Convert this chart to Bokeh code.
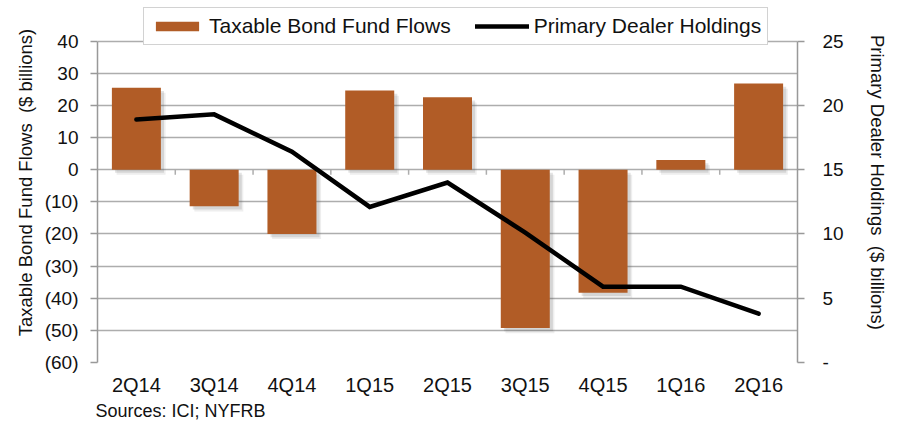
from bokeh.plotting import figure
from bokeh.models import Range1d, LinearAxis, FixedTicker, Legend, LegendItem, Title, ColumnDataSource
from bokeh.transform import dodge
from bokeh.embed import file_html
from bokeh.resources import INLINE

quarters = ["2Q14", "3Q14", "4Q14", "1Q15", "2Q15", "3Q15", "4Q15", "1Q16", "2Q16"]
fund_flows = [25.5, -11.4, -20.0, 24.6, 22.5, -49.3, -38.3, 3.0, 26.8]
dealer_holdings = [18.9, 19.3, 16.4, 12.1, 14.0, 10.1, 5.9, 5.9, 3.8]
left_ticks = [40, 30, 20, 10, 0, -10, -20, -30, -40, -50, -60]
right_ticks = [0, 5, 10, 15, 20, 25]

FONT = "Liberation Sans"
BAR = "#B15C26"
GRID = "#ADADAD"
AXIS = "#999999"
TXT = "#111111"
SP = "\u00a0"

n = len(quarters)
centers = [i + 0.5 for i in range(n)]
bounds = list(range(1, n))

# headroom above the top tick keeps the legend inside the (clipped) frame
L_MIN, L_MAX, L_TOP = -60, 40, 52
R_MIN, R_MAX = 0, 25
R_TOP = R_MIN + (R_MAX - R_MIN) * (L_TOP - L_MIN) / (L_MAX - L_MIN)

src = ColumnDataSource(dict(x=centers, flows=fund_flows, zero=[0] * n,
                            dealer=dealer_holdings))

p = figure(width=890, height=420, x_range=Range1d(0, n), y_range=Range1d(L_MIN, L_TOP),
           output_backend="svg", toolbar_location=None,
           min_border_left=97, min_border_right=89, min_border_top=2, min_border_bottom=54)
p.extra_y_ranges = {"dealer": Range1d(R_MIN, R_TOP)}
p.outline_line_color = None
p.background_fill_color = "white"

# grid
p.xgrid.visible = False
p.ygrid.ticker = FixedTicker(ticks=left_ticks)
p.ygrid.grid_line_color = GRID
p.ygrid.grid_line_width = 1.5

# soft bar shadows
for dx, dy, a in [(0.06, -1.6, 0.10), (0.04, -1.0, 0.16)]:
    p.vbar(x=dodge("x", dx), top=dodge("flows", dy), bottom=dodge("zero", dy),
           width=0.63, fill_color="#555555", fill_alpha=a, line_color=None, source=src)

# bars
bars = p.vbar(x="x", top="flows", bottom=0, width=0.63, fill_color=BAR,
              line_color=None, source=src)

# category separators hanging from zero line
p.segment(x0=bounds, y0=[0] * len(bounds), x1=bounds, y1=[-1.6] * len(bounds),
          line_color=GRID, line_width=1.5)

# dealer line
line = p.line(x="x", y="dealer", y_range_name="dealer", line_color="black",
              line_width=4.5, line_cap="round", line_join="miter", source=src)

# x axis
xa = p.xaxis[0]
xa.ticker = FixedTicker(ticks=centers)
xa.major_label_overrides = {c: q for c, q in zip(centers, quarters)}
xa.axis_line_color = None
xa.major_tick_line_color = None
xa.minor_tick_line_color = None
xa.major_tick_out = 0
xa.major_label_standoff = 11
xa.major_label_text_font = FONT
xa.major_label_text_font_size = "20px"
xa.major_label_text_color = TXT

# left axis
ya = p.yaxis[0]
ya.bounds = (L_MIN, L_MAX)
ya.ticker = FixedTicker(ticks=left_ticks)
ya.major_label_overrides = {t: (f"({-t})" if t < 0 else str(t)) for t in left_ticks}
ya.axis_line_color = AXIS
ya.axis_line_width = 1.5
ya.major_tick_line_color = AXIS
ya.major_tick_line_width = 1.5
ya.major_tick_in = 0
ya.major_tick_out = 7
ya.minor_tick_line_color = None
ya.major_label_standoff = 12
ya.major_label_text_font = FONT
ya.major_label_text_font_size = "19px"
ya.major_label_text_color = TXT
ya.axis_label = "Taxable Bond Fund Flows" + SP + SP + "($ billions)"
ya.axis_label_text_font = FONT
ya.axis_label_text_font_size = "18.5px"
ya.axis_label_text_font_style = "normal"
ya.axis_label_text_color = TXT
ya.axis_label_standoff = 6

# right axis
ra = LinearAxis(y_range_name="dealer", ticker=FixedTicker(ticks=right_ticks))
ra.bounds = (R_MIN, R_MAX)
ra.major_label_overrides = {t: ("-" if t == 0 else str(t)) for t in right_ticks}
ra.axis_line_color = AXIS
ra.axis_line_width = 1.5
ra.major_tick_line_color = AXIS
ra.major_tick_line_width = 1.5
ra.major_tick_in = 0
ra.major_tick_out = 7
ra.minor_tick_line_color = None
ra.major_label_standoff = 18
ra.major_label_text_font = FONT
ra.major_label_text_font_size = "19px"
ra.major_label_text_color = TXT
ra.axis_label = "Primary Dealer Holdings" + SP + SP + "($ billions)"
ra.axis_label_text_font = FONT
ra.axis_label_text_font_size = "18.5px"
ra.axis_label_text_font_style = "normal"
ra.axis_label_text_color = TXT
ra.axis_label_standoff = 20
p.add_layout(ra, "right")

# legend
legend = Legend(items=[LegendItem(label="Taxable Bond Fund Flows", renderers=[bars]),
                       LegendItem(label="Primary Dealer Holdings", renderers=[line])],
                orientation="horizontal", location=(46, 317),
                border_line_color="#A6A6A6", border_line_width=1.5,
                background_fill_color="white", background_fill_alpha=1.0,
                label_text_font=FONT, label_text_font_size="21px", label_text_color=TXT,
                glyph_width=54, glyph_height=12, label_standoff=5, spacing=24,
                padding=6, margin=0)
p.add_layout(legend, "center")

# source note
note = Title(text="Sources: ICI; NYFRB", align="left", text_font=FONT,
             text_font_size="18px", text_font_style="normal", text_color=TXT,
             offset=-2, standoff=0)
p.add_layout(note, "below")

open("out.html", "w").write(file_html(p, INLINE))
